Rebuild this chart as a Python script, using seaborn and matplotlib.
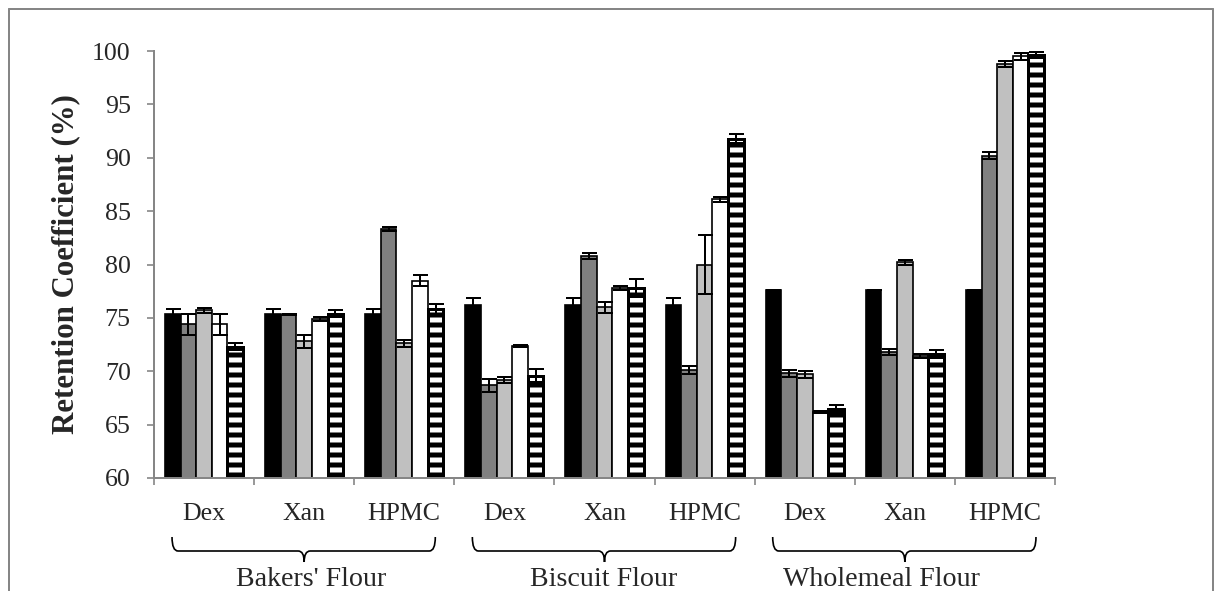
import numpy as np
import pandas as pd
import matplotlib
matplotlib.use("Agg")
import matplotlib.pyplot as plt
import matplotlib.transforms as mtransforms
from matplotlib.path import Path
from matplotlib.patches import PathPatch
from matplotlib.lines import Line2D
import seaborn as sns

# ---------------- data ----------------
flours = ["Bakers' Flour", "Biscuit Flour", "Wholemeal Flour"]
hydrocolloids = ["Dex", "Xan", "HPMC"]
series = ["Level 1", "Level 2", "Level 3", "Level 4", "Level 5"]

s1 = [75.4, 75.4, 75.4, 76.2, 76.2, 76.2, 77.6, 77.6, 77.6]
s1_err = [0.4, 0.4, 0.4, 0.7, 0.7, 0.7, 0.0, 0.0, 0.0]
s2 = [74.4, 75.3, 83.3, 68.7, 80.8, 70.1, 69.8, 71.8, 90.2]
s2_err = [1.0, 0.05, 0.2, 0.6, 0.3, 0.4, 0.3, 0.3, 0.3]
s3 = [75.7, 72.8, 72.6, 69.2, 76.0, 80.0, 69.7, 80.2, 98.8]
s3_err = [0.2, 0.6, 0.3, 0.3, 0.5, 2.8, 0.3, 0.2, 0.3]
s4 = [74.4, 74.9, 78.5, 72.4, 77.8, 86.1, 66.2, 71.4, 99.5]
s4_err = [1.0, 0.2, 0.5, 0.1, 0.2, 0.2, 0.1, 0.2, 0.3]
s5 = [72.3, 75.4, 75.8, 69.6, 77.8, 91.8, 66.5, 71.6, 99.6]
s5_err = [0.3, 0.3, 0.5, 0.6, 0.8, 0.4, 0.3, 0.4, 0.3]

values = [s1, s2, s3, s4, s5]
errors = [s1_err, s2_err, s3_err, s4_err, s5_err]
colors = ["#000000", "#808080", "#c0c0c0", "#ffffff", "#ffffff"]

groups = [f"{f}|{h}" for f in flours for h in hydrocolloids]
rows = []
for s, vals in zip(series, values):
    for g, v in zip(groups, vals):
        rows.append({"group": g, "series": s, "value": v})
df = pd.DataFrame(rows)

# ---------------- style ----------------
sns.set_theme(style="white")
plt.rcParams["font.family"] = ["Liberation Serif", "DejaVu Serif"]
plt.rcParams["hatch.color"] = "black"
plt.rcParams["hatch.linewidth"] = 3.0

W, H, DPI = 1219, 591, 120
fig = plt.figure(figsize=(W / DPI, H / DPI), dpi=DPI)
fig.patch.set_facecolor("white")

ax_left, ax_right, ax_top, ax_bottom = 154, 1055, 51, 478
ax = fig.add_axes([ax_left / W, 1 - ax_bottom / H,
                   (ax_right - ax_left) / W, (ax_bottom - ax_top) / H])

sns.barplot(data=df, x="group", y="value", hue="series", order=groups,
            hue_order=series, palette=colors, saturation=1, width=0.78,
            gap=0, edgecolor="black", linewidth=1.0, errorbar=None,
            legend=False, ax=ax)

# striped series
for p in ax.containers[4]:
    p.set_hatch("--")
    p.set_facecolor("white")
    p.set_edgecolor("black")
    p.set_linewidth(1.8)

# error bars
for cont, vals, errs in zip(ax.containers, values, errors):
    xs = [p.get_x() + p.get_width() / 2 for p in cont]
    ax.errorbar(xs, vals, yerr=errs, fmt="none", ecolor="black",
                elinewidth=1.2, capsize=4.5, capthick=1.2, zorder=5)

gray = "#868686"
ax.set_ylim(60, 100)
ax.set_xlim(-0.5, len(groups) - 0.5)
ax.set_yticks(np.arange(60, 101, 5))
ax.set_xticks(range(len(groups)))
ax.set_xticklabels([g.split("|")[1] for g in groups])
ax.set_xticks(np.arange(-0.5, len(groups), 1), minor=True)
ax.tick_params(axis="y", which="major", length=4, width=1, color=gray,
               direction="out", labelsize=15.5, pad=10, left=True)
ax.tick_params(axis="x", which="major", length=0, labelsize=15.5, pad=15)
ax.tick_params(axis="x", which="minor", length=4, width=1, color=gray,
               direction="out", bottom=True)
for side in ["top", "right"]:
    ax.spines[side].set_visible(False)
for side in ["left", "bottom"]:
    ax.spines[side].set_color(gray)
    ax.spines[side].set_linewidth(1.2)
ax.set_xlabel("")
ax.set_ylabel("Retention Coefficient (%)", fontsize=18.5, fontweight="bold",
              labelpad=7)

# braces + flour labels
trans = mtransforms.blended_transform_factory(ax.transData, fig.transFigure)
def fy(px):
    return 1 - px / H

label_x = [1.07, 3.99, 6.77]
y_top, y_mid, y_tip = 537, 551, 562
for i, flour in enumerate(flours):
    c = 3 * i + 1
    x0, x1 = c - 1.32, c + 1.31
    r = 0.06
    verts = [
        (x0, fy(y_top)), (x0, fy(y_mid)), (x0 + r, fy(y_mid)),
        (c - r, fy(y_mid)), (c, fy(y_mid)), (c, fy(y_tip)),
        (c, fy(y_tip)), (c, fy(y_mid)), (c + r, fy(y_mid)),
        (x1 - r, fy(y_mid)), (x1, fy(y_mid)), (x1, fy(y_top)),
    ]
    codes = [Path.MOVETO, Path.CURVE3, Path.CURVE3,
             Path.LINETO, Path.CURVE3, Path.CURVE3,
             Path.MOVETO, Path.CURVE3, Path.CURVE3,
             Path.LINETO, Path.CURVE3, Path.CURVE3]
    patch = PathPatch(Path(verts, codes), transform=trans, fill=False,
                      edgecolor="black", linewidth=1.0, clip_on=False)
    fig.add_artist(patch)
    t = fig.text(label_x[i], fy(580), flour, fontsize=16.8, ha="center",
                 va="center")
    t.set_transform(trans)

# outer border (cut at bottom)
bx0, by0, bx1 = 9 / W, 1 - 9 / H, 1213 / W
for xs, ys in [([bx0, bx0], [0, by0]), ([bx0, bx1], [by0, by0]),
               ([bx1, bx1], [by0, 0])]:
    fig.add_artist(Line2D(xs, ys, transform=fig.transFigure, color=gray,
                          linewidth=1.2))

fig.savefig("out.png", dpi=DPI)
